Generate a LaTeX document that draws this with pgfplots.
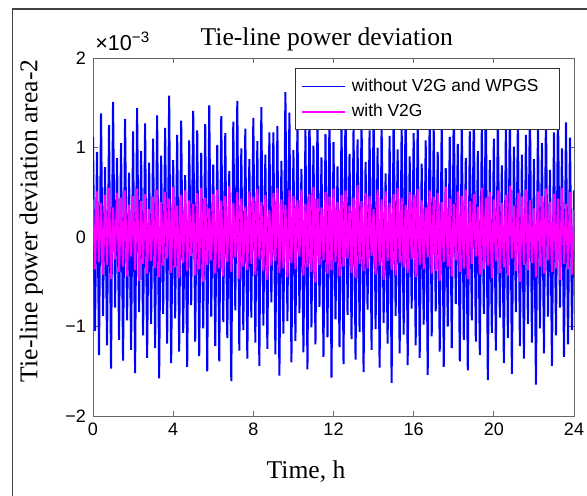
\documentclass[border=0pt]{standalone}
\usepackage{fontspec}
\setmainfont{Liberation Serif}
\newfontfamily\arialfont{Liberation Sans}
\usepackage{pgfplots}
\usepackage{pgfplotstable}
\pgfplotsset{compat=1.18}
\definecolor{mlblue}{RGB}{0,0,255}
\definecolor{mlmag}{RGB}{255,0,255}

% t in h, b = without V2G and WPGS, m = with V2G (both x 1e-3)
\pgfplotstableread[row sep=\\]{
t b m\\
0.0 1.12 0.42\\ 0.1 -1.05 -0.36\\ 0.2 0.95 0.51\\ 0.3 -1.32 -0.28\\
0.4 1.38 0.38\\ 0.5 -0.88 -0.42\\ 0.6 0.78 0.47\\ 0.7 -1.21 -0.31\\
0.8 1.25 0.55\\ 0.9 -1.47 -0.47\\ 1.0 1.51 0.33\\ 1.1 -0.79 -0.25\\
1.2 0.88 0.49\\ 1.3 -1.15 -0.39\\ 1.4 1.05 0.44\\ 1.5 -1.38 -0.33\\
1.6 1.32 0.52\\ 1.7 -0.93 -0.44\\ 1.8 0.72 0.36\\ 1.9 -1.26 -0.22\\
2.0 1.18 0.46\\ 2.1 -1.52 -0.37\\ 2.2 1.44 0.54\\ 2.3 -0.84 -0.49\\
2.4 0.96 0.40\\ 2.5 -1.10 -0.30\\ 2.6 1.27 0.48\\ 2.7 -1.35 -0.41\\
2.8 0.83 0.31\\ 2.9 -0.97 -0.27\\ 3.0 1.10 0.45\\ 3.1 -1.24 -0.35\\
3.2 1.36 0.53\\ 3.3 -1.58 -0.45\\ 3.4 0.91 0.39\\ 3.5 -0.86 -0.32\\
3.6 1.22 0.50\\ 3.7 -1.19 -0.24\\ 3.8 1.58 0.43\\ 3.9 -1.41 -0.40\\
4.0 0.86 0.56\\ 4.1 -0.91 -0.34\\ 4.2 1.14 0.35\\ 4.3 -1.28 -0.46\\
4.4 1.30 0.47\\ 4.5 -1.07 -0.29\\ 4.6 0.69 0.52\\ 4.7 -1.45 -0.38\\
4.8 1.08 0.41\\ 4.9 -0.76 -0.21\\ 5.0 1.41 0.37\\ 5.1 -1.17 -0.43\\
5.2 1.19 0.49\\ 5.3 -1.33 -0.36\\ 5.4 0.94 0.55\\ 5.5 -1.02 -0.50\\
5.6 1.26 0.44\\ 5.7 -1.50 -0.31\\ 5.8 1.47 0.32\\ 5.9 -0.89 -0.26\\
6.0 0.81 0.48\\ 6.1 -1.22 -0.41\\ 6.2 1.03 0.53\\ 6.3 -1.39 -0.35\\
6.4 1.35 0.40\\ 6.5 -0.95 -0.44\\ 6.6 1.16 0.46\\ 6.7 -1.13 -0.28\\
6.8 0.74 0.57\\ 6.9 -1.61 -0.39\\ 7.0 1.29 0.38\\ 7.1 -0.82 -0.23\\
7.2 1.52 0.50\\ 7.3 -1.27 -0.47\\ 7.4 0.99 0.43\\ 7.5 -1.04 -0.33\\
7.6 1.21 0.34\\ 7.7 -1.36 -0.37\\ 7.8 0.87 0.51\\ 7.9 -0.90 -0.30\\
8.0 1.33 0.45\\ 8.1 -1.18 -0.42\\ 8.2 1.07 0.54\\ 8.3 -1.44 -0.25\\
8.4 1.45 0.39\\ 8.5 -0.99 -0.38\\ 8.6 0.92 0.47\\ 8.7 -1.25 -0.48\\
8.8 1.17 0.30\\ 8.9 -0.73 -0.32\\ 9.0 1.17 0.49\\ 9.1 -1.31 -0.27\\
9.2 1.24 0.55\\ 9.3 -1.55 -0.40\\ 9.4 0.85 0.42\\ 9.5 -1.08 -0.35\\
9.6 1.62 0.36\\ 9.7 -0.94 -0.45\\ 9.8 1.39 0.52\\ 9.9 -1.40 -0.29\\
10.0 0.97 0.46\\ 10.1 -1.16 -0.36\\ 10.2 1.28 0.41\\ 10.3 -0.85 -0.22\\
10.4 0.76 0.53\\ 10.5 -1.29 -0.43\\ 10.6 1.20 0.37\\ 10.7 -1.48 -0.34\\
10.8 1.48 0.48\\ 10.9 -1.01 -0.39\\ 11.0 1.02 0.56\\ 11.1 -1.20 -0.51\\
11.2 1.34 0.43\\ 11.3 -0.78 -0.31\\ 11.4 0.89 0.33\\ 11.5 -1.34 -0.26\\
11.6 1.15 0.50\\ 11.7 -1.12 -0.41\\ 11.8 1.43 0.45\\ 11.9 -1.57 -0.37\\
12.0 1.06 0.54\\ 12.1 -0.92 -0.28\\ 12.2 0.79 0.39\\ 12.3 -1.23 -0.44\\
12.4 1.31 0.47\\ 12.5 -1.42 -0.33\\ 12.6 1.55 0.52\\ 12.7 -0.87 -0.24\\
12.8 0.93 0.35\\ 12.9 -1.14 -0.40\\ 13.0 1.23 0.44\\ 13.1 -1.37 -0.46\\
13.2 1.09 0.58\\ 13.3 -1.06 -0.30\\ 13.4 1.37 0.40\\ 13.5 -1.51 -0.38\\
13.6 0.84 0.49\\ 13.7 -0.81 -0.35\\ 13.8 1.19 0.46\\ 13.9 -1.26 -0.21\\
14.0 1.46 0.31\\ 14.1 -1.03 -0.42\\ 14.2 1.00 0.53\\ 14.3 -1.46 -0.32\\
14.4 1.27 0.42\\ 14.5 -0.96 -0.48\\ 14.6 0.71 0.51\\ 14.7 -1.19 -0.27\\
14.8 1.13 0.38\\ 14.9 -1.63 -0.37\\ 15.0 1.40 0.48\\ 15.1 -0.88 -0.43\\
15.2 0.98 0.55\\ 15.3 -1.30 -0.29\\ 15.4 1.25 0.44\\ 15.5 -1.09 -0.34\\
15.6 1.57 0.36\\ 15.7 -1.43 -0.40\\ 15.8 0.90 0.50\\ 15.9 -0.80 -0.25\\
16.0 1.16 0.47\\ 16.1 -1.21 -0.45\\ 16.2 1.32 0.54\\ 16.3 -1.35 -0.31\\
16.4 0.82 0.41\\ 16.5 -0.98 -0.36\\ 16.6 1.08 0.33\\ 16.7 -1.54 -0.23\\
16.8 1.44 0.52\\ 16.9 -1.11 -0.41\\ 17.0 1.21 0.45\\ 17.1 -0.83 -0.38\\
17.2 0.95 0.49\\ 17.3 -1.28 -0.49\\ 17.4 1.36 0.39\\ 17.5 -1.45 -0.28\\
17.6 0.77 0.56\\ 17.7 -1.00 -0.33\\ 17.8 1.12 0.43\\ 17.9 -1.24 -0.44\\
18.0 1.49 0.37\\ 18.1 -0.75 -0.26\\ 18.2 1.04 0.51\\ 18.3 -1.39 -0.39\\
18.4 1.29 0.46\\ 18.5 -1.15 -0.35\\ 18.6 0.88 0.53\\ 18.7 -1.49 -0.47\\
18.8 1.18 0.40\\ 18.9 -0.93 -0.30\\ 19.0 1.42 0.48\\ 19.1 -1.17 -0.22\\
19.2 0.96 0.34\\ 19.3 -1.32 -0.42\\ 19.4 1.24 0.55\\ 19.5 -0.86 -0.36\\
19.6 1.60 0.44\\ 19.7 -1.60 -0.32\\ 19.8 0.86 0.50\\ 19.9 -1.07 -0.46\\
20.0 1.10 0.42\\ 20.1 -1.27 -0.27\\ 20.2 1.35 0.52\\ 20.3 -0.90 -0.40\\
20.4 0.80 0.38\\ 20.5 -1.41 -0.34\\ 20.6 1.22 0.47\\ 20.7 -1.13 -0.43\\
20.8 1.46 0.57\\ 20.9 -1.53 -0.24\\ 21.0 1.01 0.35\\ 21.1 -0.84 -0.38\\
21.2 1.30 0.49\\ 21.3 -1.22 -0.50\\ 21.4 0.92 0.45\\ 21.5 -1.36 -0.31\\
21.6 1.14 0.53\\ 21.7 -0.97 -0.37\\ 21.8 1.53 0.41\\ 21.9 -1.18 -0.29\\
22.0 0.87 0.32\\ 22.1 -1.65 -0.45\\ 22.2 1.26 0.51\\ 22.3 -1.02 -0.33\\
22.4 1.05 0.46\\ 22.5 -1.30 -0.41\\ 22.6 1.38 0.54\\ 22.7 -0.89 -0.26\\
22.8 0.75 0.39\\ 22.9 -1.44 -0.39\\ 23.0 1.17 0.48\\ 23.1 -1.10 -0.35\\
23.2 1.43 0.43\\ 23.3 -0.79 -0.48\\ 23.4 0.99 0.55\\ 23.5 -1.34 -0.30\\
23.6 1.28 0.37\\ 23.7 -1.20 -0.36\\ 23.8 1.11 0.50\\ 23.9 -1.04 -0.42\\
24.0 0.52 0.30\\
}\tiedata

\begin{document}
\begin{tikzpicture}
\path[use as bounding box] (-46.5pt,-39.5pt) rectangle (247pt,208pt);
\draw[black!75, line width=0.6pt] (-40.2pt,-45pt) -- (-40.2pt,203.5pt) -- (252pt,203.5pt);
\begin{axis}[at={(0pt,0pt)}, anchor=south west,
  width=240.5pt, height=179pt, scale only axis,
  xmin=0, xmax=24, ymin=-2, ymax=2,
  xtick={0,4,...,24}, ytick={-2,-1,0,1,2},
  yticklabels={−2,−1,0,1,2},
  /pgf/number format/assume math mode=true,
  tick align=inside, major tick length=2.5pt,
  axis line style={black!60, line width=0.5pt},
  tick style={black!60, line width=0.5pt},
  ticklabel style={font=\arialfont\fontsize{9}{10}\selectfont},
  title={Tie-line power deviation},
  title style={at={(rel axis cs:0.486,1.0028)}, anchor=base,
    font=\fontsize{12.8}{14}\selectfont},
  xlabel={Time, h},
  xlabel style={at={(rel axis cs:0.443,-0.1732)}, anchor=base, font=\fontsize{12.8}{14}\selectfont},
  ylabel={Tie-line power deviation area-2},
  ylabel style={at={(rel axis cs:-0.1154,0.545)}, anchor=base, font=\fontsize{12.8}{14}\selectfont},
  legend style={at={(rel axis cs:1,1)}, anchor=north east, xshift=-7pt, yshift=-5pt,
    draw=black!80, line width=0.5pt, fill=white,
    font=\arialfont\fontsize{8.7}{10}\selectfont,
    inner xsep=3pt, inner ysep=3pt, row sep=1pt, cells={anchor=west}},
  legend image code/.code={\draw[#1, line width=0.6pt] (0pt,0pt) -- (21.5pt,0pt);},
  clip mode=individual]
\addplot[mlblue, line width=1pt] table[x=t, y=b] {\tiedata};
\addlegendentry{\kern1pt without V2G and WPGS\kern5.5pt}
\addplot[mlmag, line width=1pt] table[x=t, y=m] {\tiedata};
\addlegendentry{\kern1pt with V2G}
\node[anchor=base west, font=\arialfont\fontsize{10.8}{12}\selectfont, inner sep=0pt]
  at (rel axis cs:0.004,1.022) {×10\textsuperscript{−3}};
\end{axis}
\end{tikzpicture}
\end{document}
